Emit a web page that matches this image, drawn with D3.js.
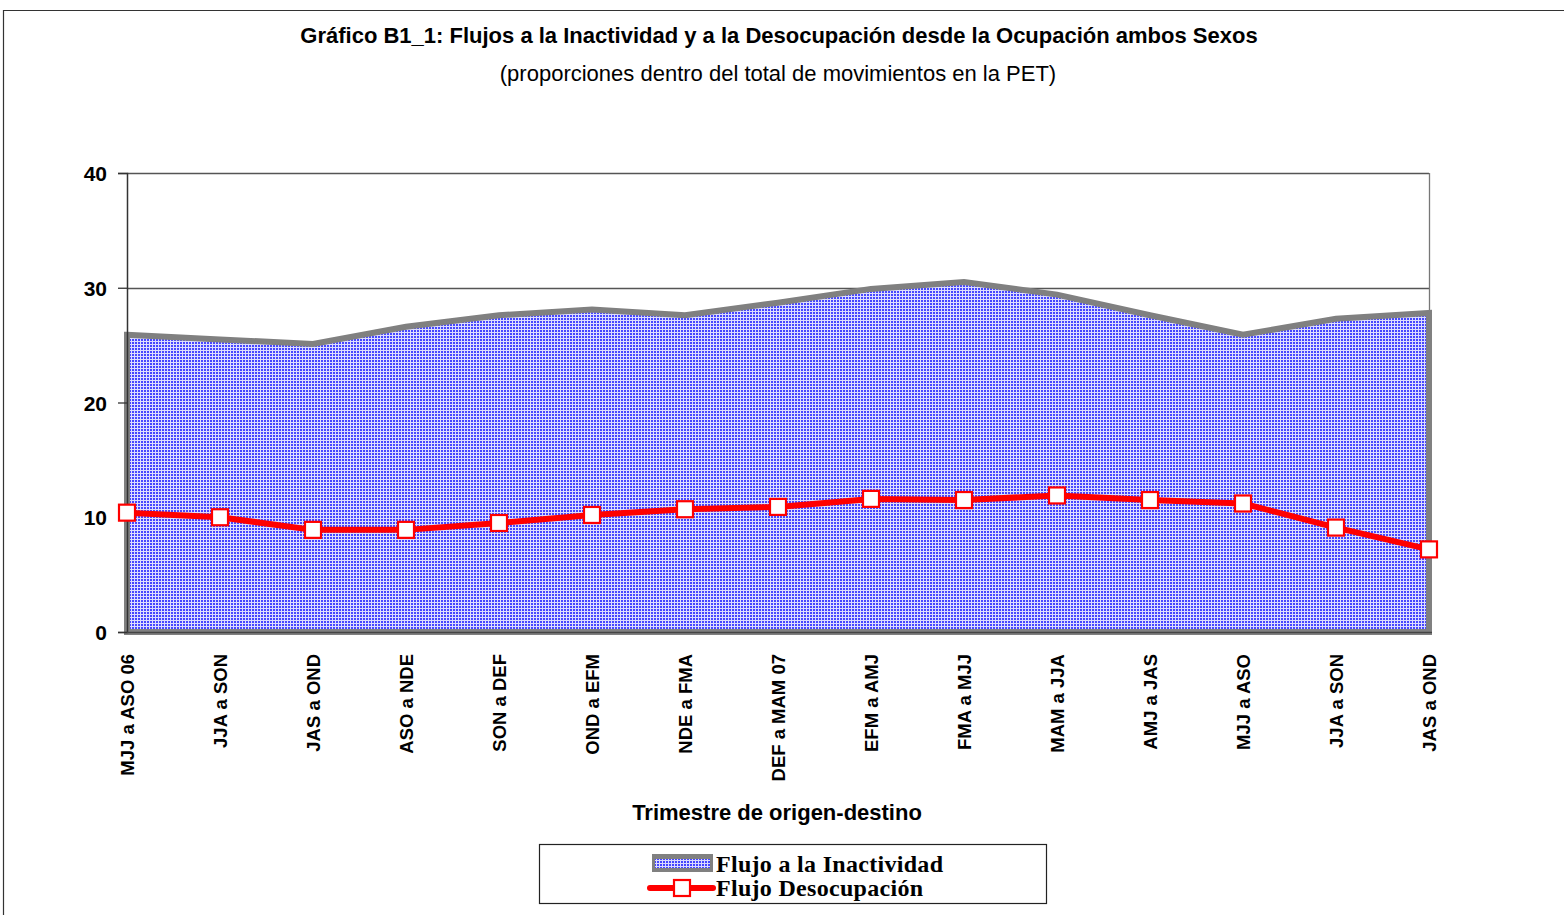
<!DOCTYPE html>
<html>
<head>
<meta charset="utf-8">
<script src="https://cdn.jsdelivr.net/npm/d3@7"></script>
<style>
  html, body { margin: 0; padding: 0; background: #fff; }
  svg { display: block; }
  .narrow { font-family: "Liberation Sans Narrow", "Arial Narrow", "Liberation Sans", sans-serif; }
</style>
</head>
<body>
<svg id="chart" width="1564" height="915"></svg>
<script>
const categories = ["MJJ a ASO 06", "JJA a SON", "JAS a OND", "ASO a NDE", "SON a DEF", "OND a EFM", "NDE a FMA", "DEF a MAM 07", "EFM a AMJ", "FMA a MJJ", "MAM a JJA", "AMJ a JAS", "MJJ a ASO", "JJA a SON ", "JAS a OND "];
const inactividad = [25.9, 25.5, 25.1, 26.6, 27.6, 28.1, 27.6, 28.7, 29.9, 30.5, 29.4, 27.6, 25.9, 27.3, 27.8];
const desocupacion = [10.4, 10.0, 8.9, 8.9, 9.5, 10.2, 10.7, 10.9, 11.6, 11.5, 11.9, 11.5, 11.2, 9.1, 7.2];
const yTicks = [0, 10, 20, 30, 40];
const seriesNames = ["Flujo a la Inactividad", "Flujo Desocupación"];
const titleText = "Gráfico B1_1: Flujos a la Inactividad y a la Desocupación desde la Ocupación ambos Sexos";
const subtitleText = "(proporciones dentro del total de movimientos en la PET)";
const xTitle = "Trimestre de origen-destino";

const svg = d3.select("#chart");
const W = 1564, H = 915;
const plot = { left: 127, right: 1429, top: 173, bottom: 632 };

// pattern
const defs = svg.append("defs");
const pat = defs.append("pattern").attr("id", "dots").attr("patternUnits", "userSpaceOnUse")
  .attr("width", 3).attr("height", 3);
pat.append("rect").attr("width", 3).attr("height", 3).attr("fill", "#dcdcff");
pat.append("rect").attr("width", 2).attr("height", 2).attr("fill", "#4646ff");

// outer border
svg.append("path").attr("d", `M3.5,${H + 5} L3.5,10.5 L${W + 5},10.5`)
  .attr("fill", "none").attr("stroke", "#333").attr("stroke-width", 1.2);

// titles
svg.append("text").attr("class", "narrow").attr("x", 779).attr("y", 43)
  .attr("text-anchor", "middle").attr("font-size", 22).attr("font-weight", "bold")
  .attr("fill", "#000").text(titleText);
svg.append("text").attr("class", "narrow").attr("x", 778).attr("y", 81)
  .attr("text-anchor", "middle").attr("font-size", 22)
  .attr("fill", "#000").text(subtitleText);

const x = d3.scalePoint().domain(categories).range([plot.left, plot.right]);
const y = d3.scaleLinear().domain([0, 40]).range([plot.bottom, plot.top]);

// gridlines
svg.append("g").selectAll("line").data(yTicks.filter(d => d > 0)).join("line")
  .attr("x1", plot.left).attr("x2", plot.right)
  .attr("y1", d => Math.round(y(d)) + 0.5).attr("y2", d => Math.round(y(d)) + 0.5)
  .attr("stroke", "#555").attr("stroke-width", 1.3);
// right border of plot
svg.append("line").attr("x1", plot.right + 0.5).attr("x2", plot.right + 0.5)
  .attr("y1", plot.top).attr("y2", plot.bottom).attr("stroke", "#777").attr("stroke-width", 1.3);

// area
const area = d3.area().x((d, i) => x(categories[i])).y0(y(0)).y1(d => y(d));
svg.append("path").datum(inactividad).attr("d", area)
  .attr("fill", "url(#dots)").attr("stroke", "#808080").attr("stroke-width", 6)
  .attr("stroke-linejoin", "miter");

// y axis
const yAxis = d3.axisLeft(y).tickValues(yTicks).tickSize(9).tickPadding(11).tickFormat(d3.format("d"));
const gy = svg.append("g").attr("transform", `translate(${plot.left},0)`).call(yAxis);
gy.select(".domain").attr("stroke", "#333").attr("stroke-width", 1.5);
gy.selectAll(".tick line").attr("stroke", "#333").attr("stroke-width", 1.3);
gy.selectAll(".tick text").attr("class", "narrow").attr("font-size", 21).attr("font-weight", "bold")
  .attr("fill", "#000").attr("dy", "0.36em");

// x axis baseline
svg.append("line").attr("x1", plot.left).attr("x2", plot.right + 3)
  .attr("y1", plot.bottom + 0.5).attr("y2", plot.bottom + 0.5).attr("stroke", "#444").attr("stroke-width", 1.5);

// x labels
const xAxis = d3.axisBottom(x).tickSize(0).tickPadding(0);
const gx = svg.append("g").attr("transform", `translate(0,${plot.bottom})`).call(xAxis);
gx.select(".domain").remove();
gx.selectAll(".tick text")
  .attr("class", "narrow").attr("font-size", 18.5).attr("font-weight", "bold").attr("fill", "#000")
  .attr("transform", "rotate(-90)").attr("text-anchor", "end")
  .attr("x", -22).attr("y", 0).attr("dy", "0.35em")
  .text(d => d.trim());

// red line
const line = d3.line().x((d, i) => x(categories[i])).y(d => y(d));
svg.append("path").datum(desocupacion).attr("d", line)
  .attr("fill", "none").attr("stroke", "#ff0000").attr("stroke-width", 6).attr("stroke-linejoin", "round");
svg.append("g").selectAll("rect").data(desocupacion).join("rect")
  .attr("x", (d, i) => x(categories[i]) - 8).attr("y", d => y(d) - 8)
  .attr("width", 16).attr("height", 16)
  .attr("fill", "#fff").attr("stroke", "#ff0000").attr("stroke-width", 2.2);

// x title
svg.append("text").attr("class", "narrow").attr("x", 777).attr("y", 820)
  .attr("text-anchor", "middle").attr("font-size", 22).attr("font-weight", "bold")
  .attr("fill", "#000").text(xTitle);

// legend
const lg = svg.append("g");
lg.append("rect").attr("x", 539.5).attr("y", 844.5).attr("width", 507).attr("height", 59)
  .attr("fill", "#fff").attr("stroke", "#222").attr("stroke-width", 1.2);
lg.append("rect").attr("x", 652).attr("y", 854).attr("width", 61).attr("height", 18).attr("fill", "#808080");
lg.append("rect").attr("x", 655).attr("y", 859).attr("width", 55).attr("height", 9).attr("fill", "url(#dots)");
lg.append("line").attr("x1", 650).attr("x2", 713).attr("y1", 888).attr("y2", 888)
  .attr("stroke", "#ff0000").attr("stroke-width", 6).attr("stroke-linecap", "round");
lg.append("rect").attr("x", 674).attr("y", 880).attr("width", 16).attr("height", 16)
  .attr("fill", "#fff").attr("stroke", "#ff0000").attr("stroke-width", 2.2);
lg.selectAll("text.leg").data(seriesNames).join("text")
  .attr("class", "leg").attr("x", 716).attr("y", (d, i) => 872 + i * 24)
  .attr("font-family", "'Liberation Serif', 'Times New Roman', serif").attr("font-size", 24)
  .attr("font-weight", "bold").attr("fill", "#000").attr("letter-spacing", 0.3).text(d => d);
</script>
</body>
</html>
